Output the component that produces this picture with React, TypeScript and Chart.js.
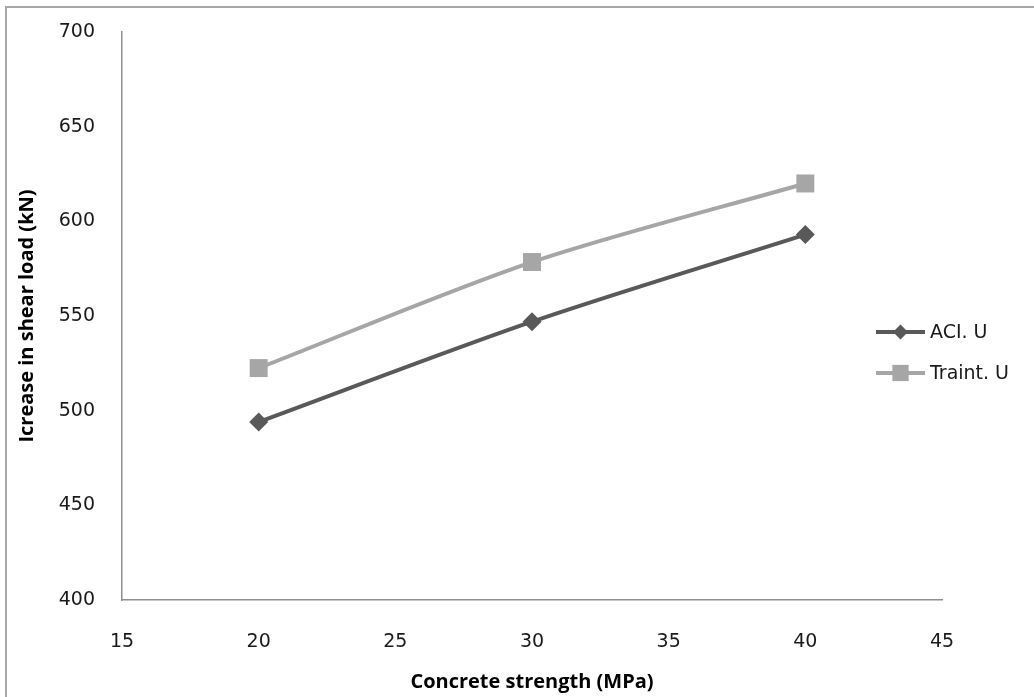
import React, { useEffect, useRef } from "react";
import { Chart, registerables } from "chart.js";
import { drawPoint } from "chart.js/helpers";

Chart.register(...registerables);

const strengths = [20, 30, 40];
const aciU = [494, 547, 593];
const traintU = [522.5, 578.5, 620];
const seriesNames = ["ACI. U", "Traint. U"];
const xTicks = { min: 15, max: 45, step: 5 };
const yTicks = { min: 400, max: 700, step: 50 };
const xTitle = "Concrete strength (MPa)";
const yTitle = "Icrease in shear load (kN)";

const DARK = "#595959";
const LIGHT = "#a6a6a6";
const TICK_FONT = { family: "DejaVu Sans", size: 19 };
const TITLE_FONT = { family: "Open Sans", size: 20, weight: "bold" as const };

const legendPlugin = {
  id: "sideLegend",
  afterDraw(chart: any) {
    const ctx = chart.ctx;
    const rows = [332, 373];
    chart.data.datasets.forEach((ds: any, i: number) => {
      const y = rows[i];
      ctx.save();
      ctx.strokeStyle = ds.borderColor;
      ctx.lineWidth = 4;
      ctx.beginPath();
      ctx.moveTo(876, y);
      ctx.lineTo(925, y);
      ctx.stroke();
      ctx.fillStyle = ds.pointBackgroundColor;
      ctx.strokeStyle = ds.pointBorderColor;
      drawPoint(ctx, { pointStyle: ds.pointStyle, radius: i === 0 ? 7.5 : 11.5, borderWidth: 0, rotation: 0 }, 900.5, y);
      ctx.fillStyle = "#1a1a1a";
      ctx.font = `${TICK_FONT.size}px "${TICK_FONT.family}"`;
      ctx.textBaseline = "middle";
      ctx.textAlign = "left";
      ctx.fillText(ds.label, 930, y + 1);
      ctx.restore();
    });
  },
};

export default function App() {
  const ref = useRef<HTMLCanvasElement>(null);
  useEffect(() => {
    if (!ref.current) return;
    const chart = new Chart(ref.current, {
      type: "line",
      data: {
        datasets: [
          {
            label: seriesNames[0],
            data: strengths.map((x, i) => ({ x, y: aciU[i] })),
            borderColor: DARK,
            backgroundColor: DARK,
            pointBackgroundColor: DARK,
            pointBorderColor: DARK,
            borderWidth: 4,
            pointStyle: "rectRot",
            pointRadius: 9.5,
            pointBorderWidth: 0,
            tension: 0.3,
          },
          {
            label: seriesNames[1],
            data: strengths.map((x, i) => ({ x, y: traintU[i] })),
            borderColor: LIGHT,
            backgroundColor: LIGHT,
            pointBackgroundColor: LIGHT,
            pointBorderColor: LIGHT,
            borderWidth: 4,
            pointStyle: "rect",
            pointRadius: 12.7,
            pointBorderWidth: 0,
            tension: 0.3,
          },
        ],
      },
      options: {
        responsive: false,
        animation: false,
        layout: { padding: { left: 13, right: 92, top: 32, bottom: 0 } },
        plugins: { legend: { display: false }, tooltip: { enabled: false } },
        scales: {
          x: {
            type: "linear",
            min: xTicks.min,
            max: xTicks.max,
            grid: { display: false, drawTicks: false },
            border: { display: true, color: "#8f8f8f", width: 1.5 },
            ticks: { stepSize: xTicks.step, padding: 31, color: "#1a1a1a", font: TICK_FONT, maxRotation: 0 },
            title: { display: true, text: xTitle, color: "#000", font: TITLE_FONT, padding: { top: 0, bottom: 3 } },
            afterFit: (s: any) => { s.height = 97; s.paddingLeft = 0; s.paddingRight = 0; },
          },
          y: {
            type: "linear",
            min: yTicks.min,
            max: yTicks.max,
            grid: { display: false, drawTicks: false },
            border: { display: true, color: "#8f8f8f", width: 1.5 },
            ticks: { stepSize: yTicks.step, padding: 27, color: "#1a1a1a", font: TICK_FONT },
            title: { display: true, text: yTitle, color: "#000", font: TITLE_FONT, padding: { top: 2, bottom: 0 } },
            afterFit: (s: any) => { s.width = 109; s.paddingTop = 0; s.paddingBottom = 0; },
          },
        },
      },
      plugins: [legendPlugin],
    } as any);
    return () => chart.destroy();
  }, []);
  return (
    <div style={{ position: "fixed", left: 0, top: 0, width: 1034, height: 697, overflow: "hidden", background: "#fff" }}>
      <div style={{ position: "absolute", left: 5, top: 6, width: 1100, height: 800, border: "2px solid #a8a8a8" }} />
      <canvas ref={ref} width={1034} height={697} style={{ position: "absolute", left: 0, top: 0 }} />
    </div>
  );
}
